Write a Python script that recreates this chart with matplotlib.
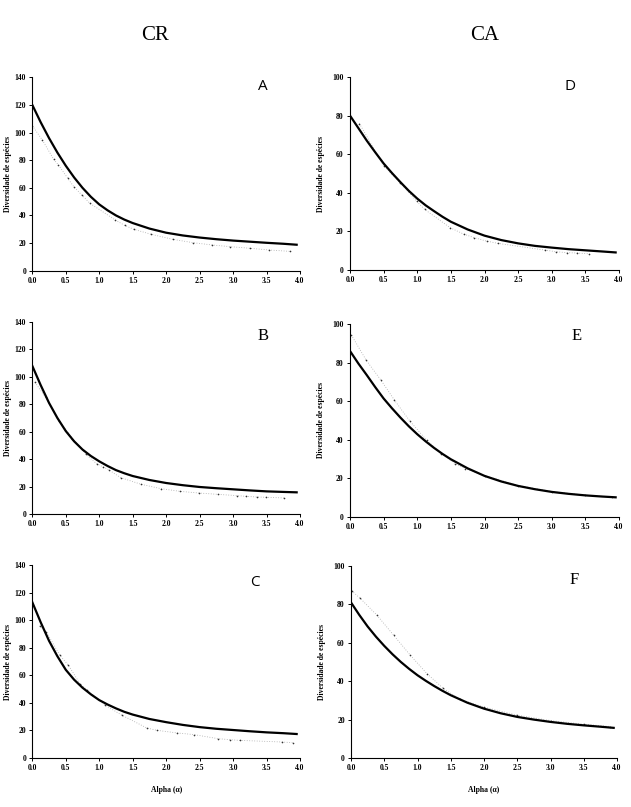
import matplotlib
matplotlib.use("Agg")
import matplotlib.pyplot as plt

# ---- data ----
x_fit = [0.0, 0.125, 0.25, 0.375, 0.5, 0.625, 0.75, 0.875, 1.0, 1.125, 1.25, 1.375, 1.5,
         1.75, 2.0, 2.25, 2.5, 2.75, 3.0, 3.25, 3.5, 3.75, 3.95]

fit_A = [120, 107.5, 96, 85.5, 76, 67.5, 60, 53.5, 48, 43.7, 40, 37, 34.5,
         30.5, 27.5, 25.5, 24, 22.8, 21.8, 21, 20.2, 19.5, 18.8]
fit_B = [108, 94, 81, 70, 60.5, 53, 47, 42.3, 38.4, 35, 32, 29.7, 27.7,
         24.8, 22.6, 21, 19.7, 18.8, 18, 17.2, 16.5, 16.1, 15.8]
fit_C = [113, 98.5, 85, 73.8, 64, 56.8, 51, 46.2, 42, 38.8, 36, 33.5, 31.5,
         28.3, 26, 24, 22.4, 21.2, 20.3, 19.4, 18.6, 18, 17.4]
fit_D = [80, 73.5, 67, 61, 55.2, 50.2, 45.5, 41, 37, 33.5, 30.5, 27.6, 25,
         21, 17.8, 15.5, 13.8, 12.5, 11.6, 10.8, 10.2, 9.6, 9.1]
fit_E = [86, 79.5, 73.5, 67.3, 61.4, 56.3, 51.5, 47, 42.9, 39.2, 35.8, 32.7, 29.9,
         25.2, 21.3, 18.4, 16.1, 14.4, 13, 12, 11.2, 10.6, 10.2]
fit_F = [81, 74.5, 68.5, 63.2, 58.4, 54, 50, 46.4, 43.1, 40.2, 37.5, 35, 32.7,
         28.8, 25.7, 23.3, 21.4, 20, 18.8, 17.8, 17, 16.3, 15.7]

obs_A_x = [0.0, 0.15, 0.32, 0.39, 0.53, 0.62, 0.74, 0.86, 1.24, 1.38, 1.52, 1.78, 2.1, 2.4, 2.69, 2.96, 3.26, 3.54, 3.85]
obs_A_y = [105, 94.6, 80.6, 76.5, 66.9, 60.8, 54.8, 48.8, 36.7, 32.8, 29.9, 26.3, 22.7, 20.3, 18.6, 17.4, 16.2, 15.0, 14.0]

obs_B_x = [0.04, 0.2, 0.4, 0.6, 0.76, 0.8, 0.96, 1.06, 1.14, 1.32, 1.63, 1.92, 2.21, 2.49, 2.78, 3.06, 3.19, 3.36, 3.49, 3.76]
obs_B_y = [96, 85, 68, 55, 46.4, 43.5, 36.7, 34.3, 32.3, 26.5, 21.6, 18.5, 16.5, 15.3, 14.3, 13.4, 12.9, 12.4, 12.2, 11.7]

obs_C_x = [0.11, 0.21, 0.41, 0.54, 0.71, 0.82, 1.09, 1.34, 1.71, 1.86, 2.16, 2.41, 2.78, 2.95, 3.1, 3.73, 3.9]
obs_C_y = [95.9, 91.5, 74.6, 67.3, 54, 49.2, 38.3, 31, 21.8, 20.1, 18.2, 17, 14, 13.3, 12.8, 11.6, 11.1]

obs_D_x = [0.14, 0.5, 0.75, 0.99, 1.11, 1.49, 1.69, 1.85, 2.03, 2.2, 2.9, 3.06, 3.22, 3.38, 3.55]
obs_D_y = [75.9, 54, 45, 35.7, 31.4, 21.9, 18.6, 16.7, 15.0, 13.8, 10.3, 9.5, 9.0, 8.8, 8.4]

obs_E_x = [0.02, 0.24, 0.46, 0.66, 0.89, 1.14, 1.36, 1.56, 1.71, 2.0, 2.5, 3.0, 3.5, 3.9]
obs_E_y = [94.3, 81.3, 70.9, 60.6, 49.7, 39.8, 32.9, 27.7, 25.1, 21.5, 16.3, 13.2, 11.3, 10.4]

obs_F_x = [0.01, 0.14, 0.39, 0.64, 0.89, 1.14, 1.39, 1.64, 2.0, 2.5, 3.0, 3.5, 3.9]
obs_F_y = [87.1, 83.1, 74.4, 64, 53.6, 44, 36.2, 30.6, 26.5, 22.3, 19.5, 17.6, 16.4]

x_ticks = [0.0, 0.5, 1.0, 1.5, 2.0, 2.5, 3.0, 3.5, 4.0]
y_ticks_CR = [0, 20, 40, 60, 80, 100, 120, 140]
y_ticks_CA = [0, 20, 40, 60, 80, 100]

col_titles = ["CR", "CA"]
panel_letters = ["A", "B", "C", "D", "E", "F"]
ylabel = "Diversidade de espécies"
xlabel = "Alpha (α)"

# ---- layout ----
W, H = 631, 807
fig = plt.figure(figsize=(W / 100, H / 100), dpi=100)

def rect(l, r, t, b):
    return [l / W, 1 - b / H, (r - l) / W, (b - t) / H]

panels = [
    dict(r=rect(32.3, 300, 77.3, 270.7), fit=fit_A, ox=obs_A_x, oy=obs_A_y, yt=y_ticks_CR, ymax=140,
         letter=panel_letters[0], lpos=(263, 86), lsans=True, xl=False),
    dict(r=rect(32.3, 300, 322, 514), fit=fit_B, ox=obs_B_x, oy=obs_B_y, yt=y_ticks_CR, ymax=140,
         letter=panel_letters[1], lpos=(263, 336), lsans=False, xl=False),
    dict(r=rect(32.3, 300, 565, 758), fit=fit_C, ox=obs_C_x, oy=obs_C_y, yt=y_ticks_CR, ymax=140,
         letter=panel_letters[2], lpos=(255, 582), lsans=True, xl=True),
    dict(r=rect(350, 619, 77, 270), fit=fit_D, ox=obs_D_x, oy=obs_D_y, yt=y_ticks_CA, ymax=100,
         letter=panel_letters[3], lpos=(570, 86), lsans=True, xl=False),
    dict(r=rect(350, 619, 324, 517), fit=fit_E, ox=obs_E_x, oy=obs_E_y, yt=y_ticks_CA, ymax=100,
         letter=panel_letters[4], lpos=(577, 336), lsans=False, xl=False),
    dict(r=rect(351, 617, 566, 758), fit=fit_F, ox=obs_F_x, oy=obs_F_y, yt=y_ticks_CA, ymax=100,
         letter=panel_letters[5], lpos=(574, 580), lsans=False, xl=True),
]

serif = "Liberation Serif"

for i, p in enumerate(panels):
    ax = fig.add_axes(p["r"])
    ax.plot(p["ox"], p["oy"], linestyle=(0, (1, 2)), color="#aaaaaa", linewidth=0.6,
            marker="o", markersize=1.2, markerfacecolor="#333333", markeredgewidth=0, zorder=2)
    ax.plot(x_fit, p["fit"], color="black", linewidth=1.6, zorder=3, solid_joinstyle="round")
    ax.set_xlim(0, 4.0)
    ax.set_ylim(0, p["ymax"])
    ax.set_xticks(x_ticks)
    ax.set_xticklabels([f"{v:.1f}" for v in x_ticks], fontsize=5.5, fontweight="bold", family=serif)
    ax.set_yticks(p["yt"])
    ax.set_yticklabels([str(v) for v in p["yt"]], fontsize=5.5, fontweight="bold", family=serif)
    ax.tick_params(direction="out", length=2.5, width=0.7, pad=2)
    for s in ["top", "right"]:
        ax.spines[s].set_visible(False)
    for s in ["left", "bottom"]:
        ax.spines[s].set_linewidth(0.8)
    ax.set_ylabel(ylabel, fontsize=5.5, fontweight="bold", family=serif, labelpad=2 if i < 3 else 5)
    if p["xl"]:
        ax.set_xlabel(xlabel, fontsize=5.5, fontweight="bold", family=serif, labelpad=10)
    lx, ly = p["lpos"]
    fam = "Open Sans" if p["lsans"] else serif
    fig.text(lx / W, 1 - ly / H, p["letter"], fontsize=11 if p["lsans"] else 12, family=fam,
             ha="center", va="center")

fig.text(155 / W, 1 - 36 / H, col_titles[0], fontsize=15, family=serif, ha="center", va="center")
fig.text(485 / W, 1 - 36 / H, col_titles[1], fontsize=15, family=serif, ha="center", va="center")

fig.savefig("out.png", dpi=100)
